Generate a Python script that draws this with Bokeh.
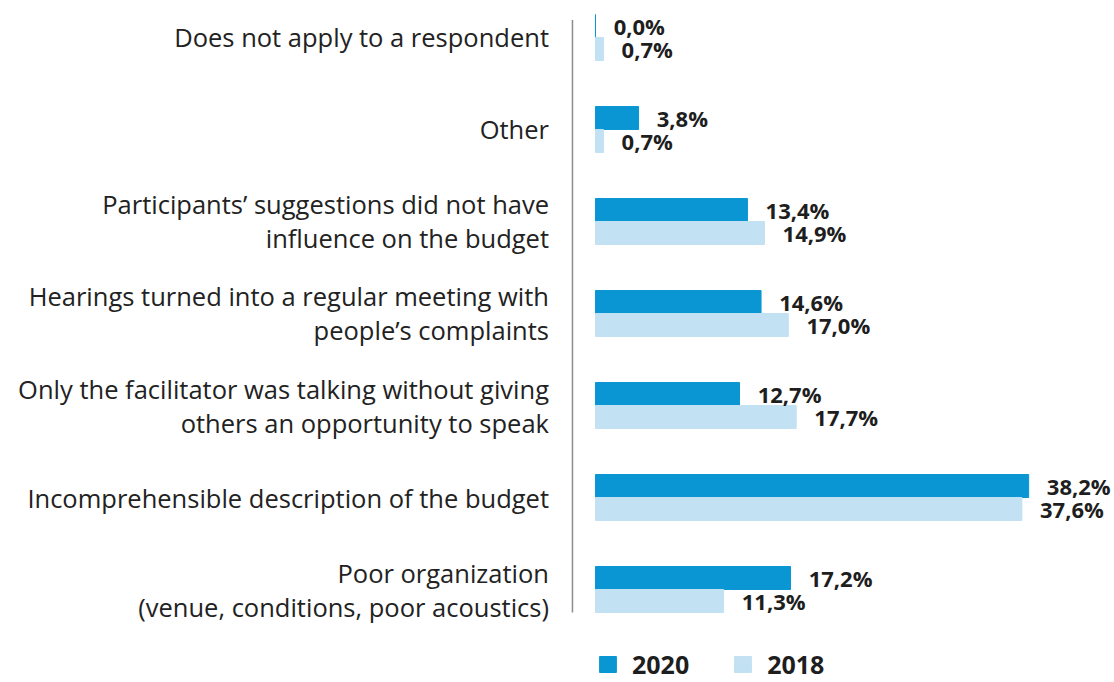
from bokeh.plotting import figure
from bokeh.models import Range1d, Legend, LegendItem, ColumnDataSource
from bokeh.core.properties import value
from bokeh.embed import file_html
from bokeh.resources import INLINE

categories = [
    "Does not apply to a respondent",
    "Other",
    "Participants’ suggestions did not have\ninfluence on the budget",
    "Hearings turned into a regular meeting with\npeople’s complaints",
    "Only the facilitator was talking without giving\nothers an opportunity to speak",
    "Incomprehensible description of the budget",
    "Poor organization\n(venue, conditions, poor acoustics)",
]
v2020 = [0.0, 3.8, 13.4, 14.6, 12.7, 38.2, 17.2]
v2018 = [0.7, 0.7, 14.9, 17.0, 17.7, 37.6, 11.3]
series_names = ["2020", "2018"]

DARK = "#0a96d2"
LIGHT = "#c2e1f3"
FONT = "Open Sans"

n = len(categories)
pos = [n - 1 - i for i in range(n)]
off = 0.125
bh = 0.25

def fmt(v):
    return f"{v:.1f}".replace(".", ",") + "%"

LOFF = 1.6
src20 = ColumnDataSource(dict(y=[p + off for p in pos], v=v2020,
                              lx=[v + LOFF for v in v2020],
                              lab=[fmt(v) for v in v2020]))
src18 = ColumnDataSource(dict(y=[p - off for p in pos], v=v2018,
                              lx=[v + LOFF for v in v2018],
                              lab=[fmt(v) for v in v2018]))
srccat = ColumnDataSource(dict(y=pos, cat=categories))

W, H = 1114, 680
p = figure(width=W, height=H, output_backend="svg", toolbar_location=None,
           x_range=Range1d(-52.47, 45.77), y_range=Range1d(-0.989, 6.402),
           min_border=0, outline_line_color=None)
p.xaxis.visible = False
p.yaxis.visible = False
p.grid.visible = False

r20 = p.hbar(y="y", left=0, right="v", height=bh, color=DARK, source=src20)
r18 = p.hbar(y="y", left=0, right="v", height=bh, color=LIGHT, source=src18)

for s in (src20, src18):
    p.text(x="lx", y="y", text="lab", source=s, text_font=value(FONT),
           text_font_style="bold", text_font_size="22px", text_color="#1e1e1e",
           text_baseline="middle", text_align="left")

p.text(x=-4.1, y="y", text="cat", source=srccat, text_font=value(FONT),
       text_font_size="25.5px", text_color="#222222", text_baseline="middle",
       text_align="right", text_line_height=1.0)

p.segment(x0=-2.03, x1=-2.03, y0=-0.25, y1=6.19, line_color="#8c8c8c", line_width=1.5)

legend = Legend(items=[LegendItem(label=series_names[0], renderers=[r20]),
                       LegendItem(label=series_names[1], renderers=[r18])],
                orientation="horizontal", location=(597, -1),
                glyph_width=21, glyph_height=20, label_height=20,
                label_text_font=FONT, label_text_font_style="bold",
                label_text_font_size="25px", label_text_color="#1e1e1e",
                label_standoff=14, spacing=43, padding=0, margin=0,
                border_line_color=None, background_fill_alpha=0)
p.add_layout(legend, "center")

open("out.html", "w").write(file_html(p, INLINE))
